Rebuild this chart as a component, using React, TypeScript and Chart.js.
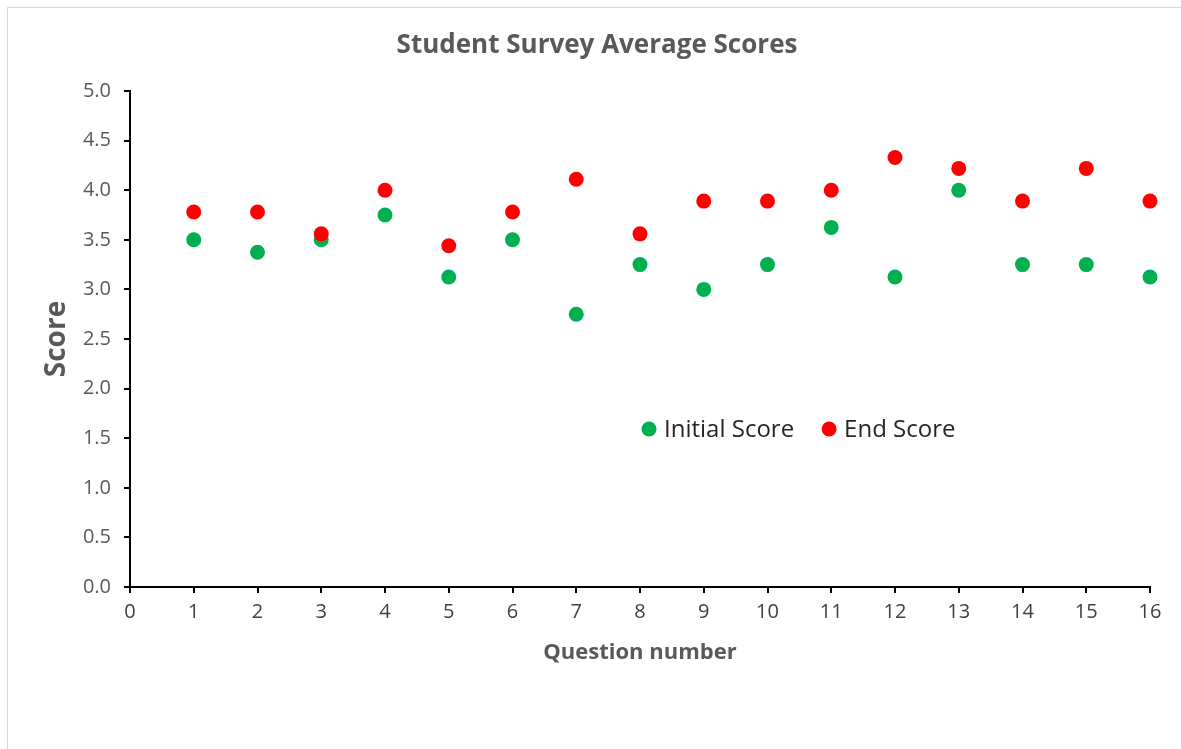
import React, { useEffect, useRef } from "react";
import { Chart, registerables } from "chart.js";

Chart.register(...registerables);

const questions = [1, 2, 3, 4, 5, 6, 7, 8, 9, 10, 11, 12, 13, 14, 15, 16];
const initialScores = [3.5, 3.375, 3.5, 3.75, 3.125, 3.5, 2.75, 3.25, 3.0, 3.25, 3.625, 3.125, 4.0, 3.25, 3.25, 3.125];
const endScores = [3.78, 3.78, 3.56, 4.0, 3.44, 3.78, 4.11, 3.56, 3.89, 3.89, 4.0, 4.33, 4.22, 3.89, 4.22, 3.89];
const seriesNames = ["Initial Score", "End Score"];
const seriesColors = ["#00B050", "#FF0000"];
const chartTitle = "Student Survey Average Scores";
const xTitle = "Question number";
const yTitle = "Score";

const FONT = "'Open Sans', 'Noto Sans', sans-serif";

const textPlugin = {
  id: "customText",
  afterDraw(chart: any) {
    const ctx = chart.ctx;
    const ca = chart.chartArea;
    ctx.save();
    // title
    ctx.fillStyle = "#595959";
    ctx.font = `bold 26px ${FONT}`;
    ctx.textAlign = "center";
    ctx.textBaseline = "middle";
    ctx.fillText(chartTitle, 597, 46);
    // x title
    ctx.font = `bold 22px ${FONT}`;
    ctx.fillText(xTitle, (ca.left + ca.right) / 2, 653);
    // y title
    ctx.save();
    ctx.translate(57, (ca.top + ca.bottom) / 2);
    ctx.rotate(-Math.PI / 2);
    ctx.font = `bold 28px ${FONT}`;
    ctx.fillText(yTitle, 0, 0);
    ctx.restore();
    // legend
    const ly = ca.top + 338;
    let lx = ca.left + 519;
    ctx.textAlign = "left";
    ctx.font = `24px ${FONT}`;
    for (let i = 0; i < seriesNames.length; i++) {
      ctx.fillStyle = seriesColors[i];
      ctx.beginPath();
      ctx.arc(lx, ly, 7.5, 0, Math.PI * 2);
      ctx.fill();
      ctx.fillStyle = "#262626";
      ctx.fillText(seriesNames[i], lx + 15, ly + 1);
      const w = ctx.measureText(seriesNames[i]).width;
      lx = lx + 15 + w + 35;
    }
    ctx.restore();
  },
};

export default function App() {
  const canvasRef = useRef<HTMLCanvasElement | null>(null);

  useEffect(() => {
    const canvas = canvasRef.current;
    if (!canvas) return;
    const chart = new Chart(canvas, {
      type: "scatter",
      data: {
        datasets: [
          {
            label: seriesNames[0],
            data: questions.map((q, i) => ({ x: q, y: initialScores[i] })),
            backgroundColor: seriesColors[0],
            borderColor: seriesColors[0],
            pointRadius: 7.5,
            pointBorderWidth: 0,
            order: 2,
            clip: false,
          },
          {
            label: seriesNames[1],
            data: questions.map((q, i) => ({ x: q, y: endScores[i] })),
            backgroundColor: seriesColors[1],
            borderColor: seriesColors[1],
            pointRadius: 7.5,
            pointBorderWidth: 0,
            order: 1,
            clip: false,
          },
        ],
      },
      options: {
        animation: false,
        responsive: false,
        layout: { padding: { top: 91, right: 31, left: 0, bottom: 0 } },
        plugins: {
          legend: { display: false },
          title: { display: false },
          tooltip: { enabled: false },
        },
        scales: {
          x: {
            type: "linear",
            min: 0,
            max: 16,
            afterFit: (s: any) => {
              s.height = 162;
            },
            ticks: {
              stepSize: 1,
              color: "#404040",
              font: { family: FONT, size: 20 },
              padding: 7,
            },
            grid: {
              drawOnChartArea: false,
              drawTicks: true,
              tickLength: 6,
              color: "#000",
              lineWidth: 2,
            },
            border: { color: "#000", width: 2 },
          },
          y: {
            type: "linear",
            min: 0,
            max: 5,
            afterFit: (s: any) => {
              s.width = 130;
            },
            ticks: {
              stepSize: 0.5,
              color: "#595959",
              font: { family: FONT, size: 20 },
              padding: 13,
              callback: (v: any) => Number(v).toFixed(1),
            },
            grid: {
              drawOnChartArea: false,
              drawTicks: true,
              tickLength: 6,
              color: "#000",
              lineWidth: 2,
            },
            border: { color: "#000", width: 2 },
          },
        },
      },
      plugins: [textPlugin],
    });
    return () => chart.destroy();
  }, []);

  return (
    <div
      style={{
        position: "fixed",
        left: 0,
        top: 0,
        width: 1181,
        height: 749,
        overflow: "hidden",
        background: "#fff",
      }}
    >
      <div
        style={{
          position: "absolute",
          left: 7,
          top: 7,
          width: 1220,
          height: 800,
          border: "1.5px solid #d9d9d9",
        }}
      />
      <canvas
        ref={canvasRef}
        width={1181}
        height={749}
        style={{ position: "absolute", left: 0, top: 0 }}
      />
    </div>
  );
}
